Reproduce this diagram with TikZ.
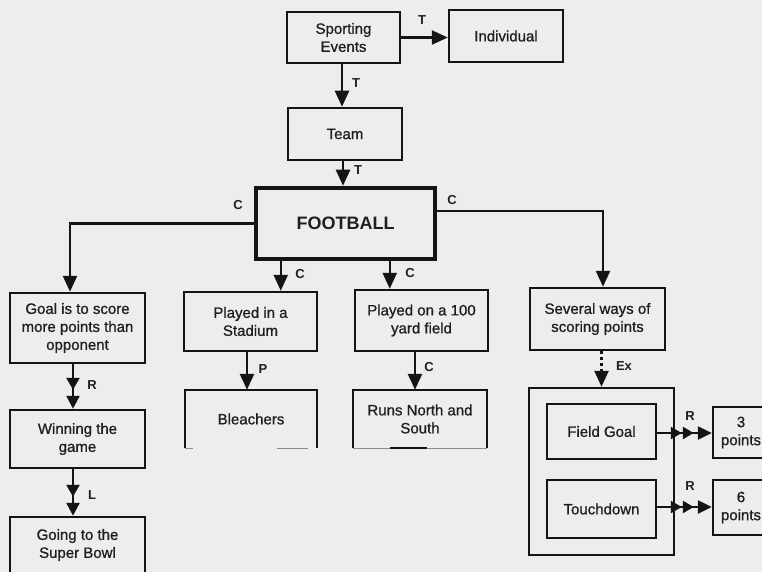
\documentclass[tikz,border=0pt]{standalone}
\usepackage{fontspec}
\setmainfont{Liberation Sans}
\newfontfamily\boxfont{Liberation Sans}[FakeBold=0.9]
\usetikzlibrary{arrows.meta}
\begin{document}
\begin{tikzpicture}[x=1pt,y=-1pt,
  box/.style={draw=black!92, line width=2.5pt, inner sep=2pt, align=center,
    font=\boxfont\fontsize{15}{18}\selectfont, text=black!88},
  openbox/.style={inner sep=2pt, align=center,
    font=\boxfont\fontsize{15}{18}\selectfont, text=black!88},
  edge/.style={draw=black!92, line width=2.5pt},
  faint/.style={draw=black!45, line width=1pt},
  lbl/.style={font=\bfseries\fontsize{13}{13}\selectfont, text=black!88, inner sep=0pt},
  link/.style={edge, -{Triangle[length=16pt,width=14pt]}},
  rlink/.style={edge, -{Triangle[length=12pt,width=13pt,sep=6pt]Triangle[length=13pt,width=13pt]}},
  rrlink/.style={edge, -{Triangle[length=11pt,width=12pt,sep=1pt]Triangle[length=11pt,width=12pt,sep=4pt]Triangle[length=14pt,width=13pt]}},
  exlink/.style={draw=black!92, line width=2.5pt, dash pattern=on 3pt off 3pt,
    -{Triangle[length=16pt,width=14pt]}},
]
% page
\fill[black!7] (0,0) rectangle (762,572);
\useasboundingbox (0,0) rectangle (762,572);
\clip (0,0) rectangle (762,572);

% top chain
\node[box, minimum width=113pt, minimum height=51pt] (sport) at (343.5,37.5) {Sporting\\Events};
\node[box, minimum width=114pt, minimum height=52pt] (indiv) at (506,36) {Individual};
\node[box, minimum width=114pt, minimum height=52pt] (team) at (345,134) {Team};
\node[box, line width=4.5pt, minimum width=179pt, minimum height=71pt,
  font=\bfseries\fontsize{18}{20}\selectfont] (foot) at (345.5,223.5) {FOOTBALL};

% second row
\node[box, minimum width=135pt, minimum height=70pt] (goal) at (77.5,328) {Goal is to score\\more points than\\opponent};
\node[box, minimum width=133pt, minimum height=59pt] (stad) at (250.5,321.5) {Played in a\\Stadium};
\node[box, minimum width=133pt, minimum height=61pt] (yard) at (421.5,320.5) {Played on a 100\\yard field};
\node[box, minimum width=135pt, minimum height=62pt] (sev) at (597.5,319) {Several ways of\\scoring points};

% left column
\node[box, minimum width=135pt, minimum height=58pt] (win) at (77.5,439) {Winning the\\game};
\node[box, minimum width=135pt, minimum height=56pt] (going) at (77.5,545) {Going to the\\Super Bowl};

% open-bottomed boxes
\node[openbox, minimum width=132pt, minimum height=58pt] (bl) at (251,419) {Bleachers};
\draw[edge] (bl.south west) -- (bl.north west) -- (bl.north east) -- (bl.south east);
\draw[faint] (bl.south west) -- ([xshift=8pt]bl.south west);
\draw[faint] ([xshift=92pt]bl.south west) -- ([xshift=123pt]bl.south west);

\node[openbox, minimum width=134pt, minimum height=58pt] (runs) at (420,419) {Runs North and\\South};
\draw[edge] (runs.south west) -- (runs.north west) -- (runs.north east) -- (runs.south east);
\draw[faint] (runs.south west) -- (runs.south east);
\draw[edge] ([xshift=37pt]runs.south west) -- ([xshift=74pt]runs.south west);

% examples group
\node[box, minimum width=145pt, minimum height=167pt] (cont) at (601.5,471.5) {};
\node[box, minimum width=109pt, minimum height=55pt] (fg) at (601.5,431.5) {Field Goal};
\node[box, minimum width=109pt, minimum height=58pt] (td) at (601.5,509) {Touchdown};
\node[box, minimum width=56pt, minimum height=51pt] (p3) at (741,432.5) {3\\points};
\node[box, minimum width=56pt, minimum height=55pt] (p6) at (741,507.5) {6\\points};

% connectors
\draw[link] (sport.east) -- (sport.east -| indiv.west);
\draw[link] ([xshift=-1.5pt]sport.south) -- ([xshift=-1.5pt]sport.south |- team.north);
\draw[link] ([xshift=-2pt]team.south) -- ([xshift=-2pt]team.south |- foot.north);
\draw[link] (foot.west) -| ([xshift=-7.5pt]goal.north);
\draw[link] ([xshift=27pt]foot.south west) -- ([xshift=27pt]foot.south west |- stad.north);
\draw[link] ([xshift=136pt]foot.south west) -- ([xshift=136pt]foot.south west |- yard.north);
\draw[link] ([yshift=12.5pt]foot.east) -| ([xshift=5.5pt]sev.north);
\draw[link] ([xshift=-3.5pt]stad.south) -- ([xshift=-3.5pt]stad.south |- bl.north);
\draw[link] ([xshift=-6.5pt]yard.south) -- ([xshift=-6.5pt]yard.south |- runs.north);
\draw[rlink] ([xshift=-4.5pt]goal.south) -- ([xshift=-4.5pt]win.north);
\draw[rlink] ([xshift=-4.5pt]win.south) -- ([xshift=-4.5pt]going.north);
\draw[exlink] (cont.north |- sev.south) -- (cont.north);
\draw[rrlink] ([yshift=-1.5pt]fg.east) -- ([yshift=-1.5pt]fg.east -| p3.west);
\draw[rrlink] ([yshift=2pt]td.east) -- ([yshift=2pt]td.east -| p6.west);

% relation labels
\node[lbl] (t1) at (422,20) {T};
\node[lbl] (t2) at (356,83) {T};
\node[lbl] (t3) at (358,170) {T};
\node[lbl] (c1) at (238,205) {C};
\node[lbl] (c2) at (300,274) {C};
\node[lbl] (c3) at (410,273) {C};
\node[lbl] (c4) at (452,200) {C};
\node[lbl] (p1) at (263,369) {P};
\node[lbl] (c5) at (429,367) {C};
\node[lbl] (ex) at (624,366) {Ex};
\node[lbl] (r1) at (690,416) {R};
\node[lbl] (r2) at (690,486) {R};
\node[lbl] (r3) at (92,385) {R};
\node[lbl] (l1) at (92,495) {L};
\end{tikzpicture}
\end{document}
